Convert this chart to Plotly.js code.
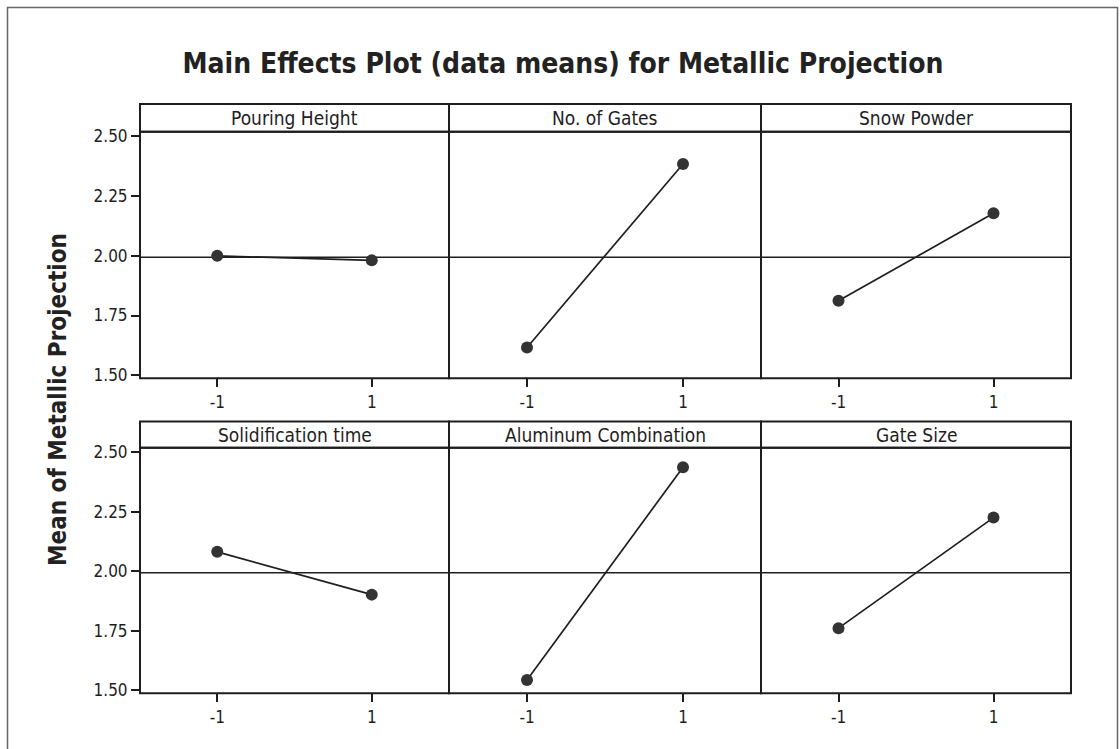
<!DOCTYPE html>
<html>
<head>
<meta charset="utf-8">
<script src="https://cdn.plot.ly/plotly-3.0.1.min.js"></script>
<style>html,body{margin:0;padding:0;background:#fff;}#chart{width:1120px;height:749px;}</style>
</head>
<body>
<div id="chart"></div>
<script>
// ---- data ----
const factors = ["Pouring Height", "No. of Gates", "Snow Powder", "Solidification time", "Aluminum Combination", "Gate Size"];
const levels = [-1, 1];
const pouringHeight = [2.000, 1.981];
const noOfGates = [1.616, 2.385];
const snowPowder = [1.812, 2.178];
const solidificationTime = [2.082, 1.902];
const aluminumCombination = [1.543, 2.438];
const gateSize = [1.761, 2.226];
const grandMean = 1.994;
const yTickVals = [1.50, 1.75, 2.00, 2.25, 2.50];
const xTickLabels = ["-1", "1"];
const series = [pouringHeight, noOfGates, snowPowder, solidificationTime, aluminumCombination, gateSize];

// ---- layout geometry (pixels) ----
const W = 1120, H = 749;
const cols = [[140, 449], [449, 761], [761, 1071]];
const rows = [{strip: [104, 131.7], plot: [131.7, 378.3]}, {strip: [421.5, 447.7], plot: [447.7, 693.3]}];
const fx = p => p / W;
const fy = p => 1 - p / H;

const FONT = "'DejaVu Sans Condensed', 'DejaVu Sans', sans-serif";
const INK = '#1e1e1e';

const traces = [];
const layout = {
  width: W, height: H,
  margin: {l: 0, r: 0, t: 0, b: 0},
  paper_bgcolor: '#fff', plot_bgcolor: '#fff',
  showlegend: false,
  font: {family: FONT, color: INK, size: 17},
  title: {
    text: '<b>Main Effects Plot (data means) for Metallic Projection</b>',
    x: fx(563), xanchor: 'center', y: fy(63), yanchor: 'middle',
    font: {family: FONT, size: 28, color: '#222'}
  },
  shapes: [], annotations: []
};

for (let i = 0; i < 6; i++) {
  const r = Math.floor(i / 3), c = i % 3;
  const n = i + 1;
  const xa = 'xaxis' + (n === 1 ? '' : n), ya = 'yaxis' + (n === 1 ? '' : n);
  const xr = 'x' + (n === 1 ? '' : n), yr = 'y' + (n === 1 ? '' : n);
  traces.push({
    x: levels, y: series[i], xaxis: xr, yaxis: yr,
    type: 'scatter', mode: 'lines+markers',
    line: {color: INK, width: 1.7},
    marker: {color: '#333', size: 12, line: {width: 0}},
    hoverinfo: 'skip'
  });
  layout[xa] = {
    domain: [fx(cols[c][0]), fx(cols[c][1])],
    anchor: yr, range: [-2, 2], fixedrange: true,
    tickvals: levels, ticktext: xTickLabels,
    ticks: 'outside', ticklen: 8, tickwidth: 2, tickcolor: INK,
    showline: false, showgrid: false, zeroline: false,
    tickfont: {family: FONT, size: 17, color: INK}
  };
  layout[ya] = {
    domain: [fy(rows[r].plot[1]), fy(rows[r].plot[0])],
    anchor: xr, range: [1.487, 2.52], fixedrange: true,
    tickvals: yTickVals, tickformat: '.2f',
    ticks: c === 0 ? 'outside' : '', ticklen: 8, tickwidth: 2, tickcolor: INK,
    showticklabels: c === 0,
    showline: false, showgrid: false, zeroline: false,
    tickfont: {family: FONT, size: 17, color: INK}
  };
  // grand mean reference line
  layout.shapes.push({
    type: 'line', xref: xr + ' domain', yref: yr,
    x0: 0, x1: 1, y0: grandMean, y1: grandMean,
    line: {color: INK, width: 1.5}, layer: 'below'
  });
  // panel frame
  layout.shapes.push({
    type: 'rect', xref: xr + ' domain', yref: yr + ' domain',
    x0: 0, x1: 1, y0: 0, y1: 1,
    line: {color: INK, width: 2}, fillcolor: 'rgba(0,0,0,0)'
  });
  // strip box
  layout.shapes.push({
    type: 'rect', xref: 'paper', yref: 'paper',
    x0: fx(cols[c][0]), x1: fx(cols[c][1]),
    y0: fy(rows[r].strip[1]), y1: fy(rows[r].strip[0]),
    line: {color: INK, width: 2}, fillcolor: 'rgba(0,0,0,0)'
  });
  layout.annotations.push({
    text: factors[i], xref: 'paper', yref: 'paper',
    x: fx((cols[c][0] + cols[c][1]) / 2), y: fy((rows[r].strip[0] + rows[r].strip[1]) / 2),
    xanchor: 'center', yanchor: 'middle', showarrow: false,
    font: {family: FONT, size: 19, color: INK}
  });
}

// y-axis title
layout.annotations.push({
  text: '<b>Mean of Metallic Projection</b>', xref: 'paper', yref: 'paper',
  x: fx(58), y: fy(400), xanchor: 'center', yanchor: 'middle',
  textangle: -90, showarrow: false,
  font: {family: FONT, size: 24, color: '#222'}
});

// outer frame (left, top, right)
layout.shapes.push({
  type: 'path', xref: 'paper', yref: 'paper',
  path: `M ${fx(7.5)},${fy(760)} L ${fx(7.5)},${fy(7.5)} L ${fx(1117.5)},${fy(7.5)} L ${fx(1117.5)},${fy(760)}`,
  line: {color: '#666', width: 1.5}
});

Plotly.newPlot('chart', traces, layout, {staticPlot: true, displayModeBar: false});
</script>
</body>
</html>
